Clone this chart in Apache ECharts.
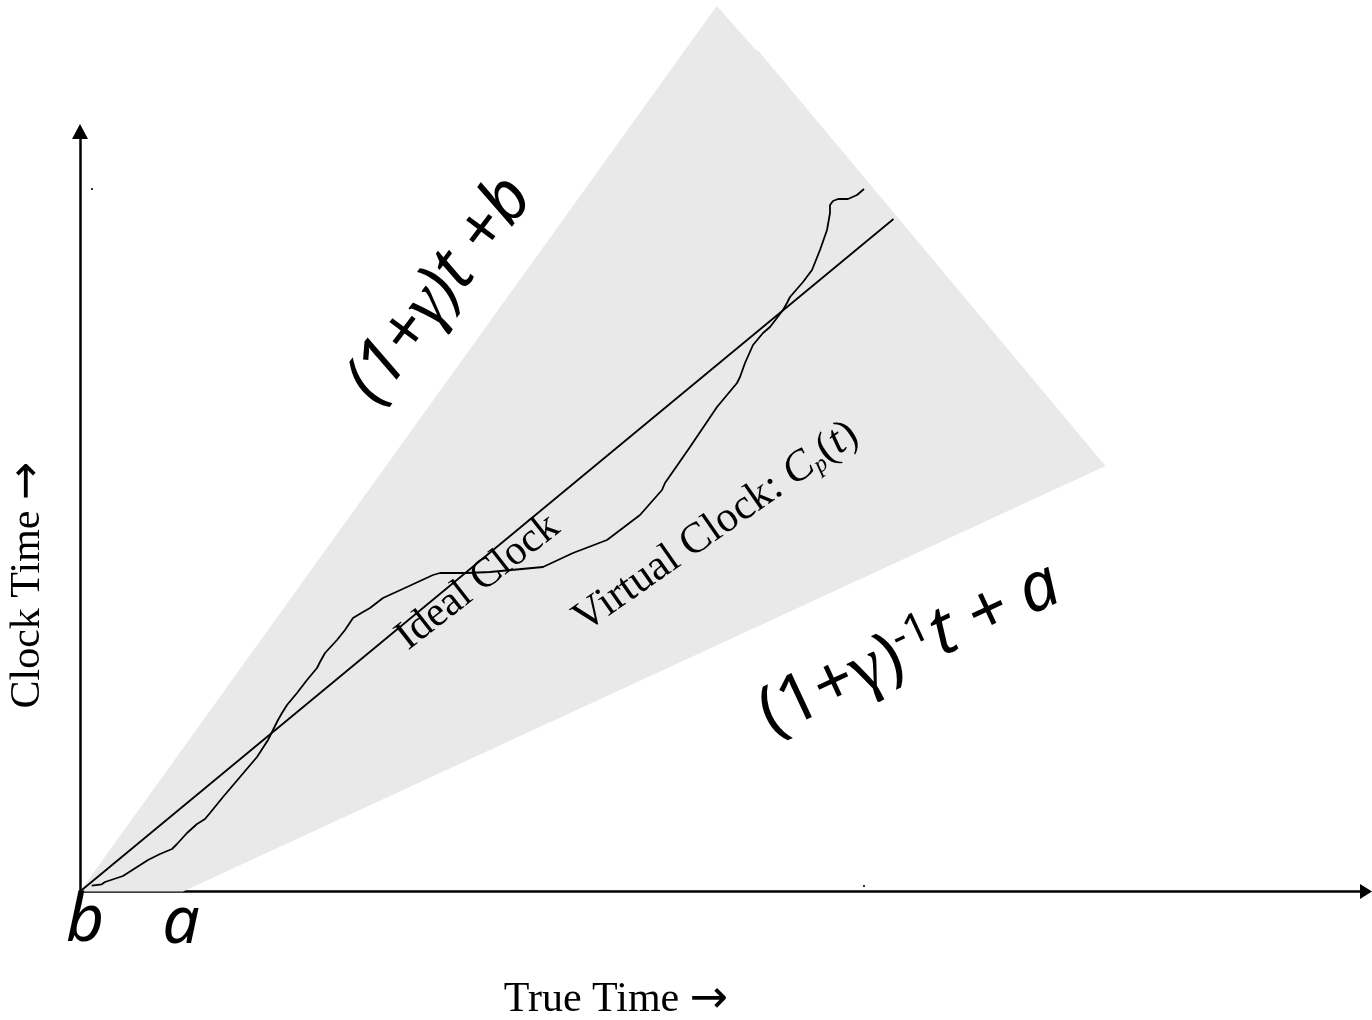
<!DOCTYPE html>
<html>
<head>
<meta charset="utf-8">
<script src="https://cdn.jsdelivr.net/npm/echarts@6/dist/echarts.min.js"></script>
<style>
html,body{margin:0;padding:0;background:#fff;}
#chart{width:1372px;height:1020px;}
</style>
</head>
<body>
<div id="chart"></div>
<script>
// Data in diagram units (true time on x, clock time on y)
var wedge = [[0,0],[636.7,885.5],[676,841.5],[678.5,840.5],[1025.5,425.5],[103,0]];
var idealClock = [[0,0],[813.5,672.5]];
var virtualClock = [
 [11.7,5.8],[21.7,7.2],[25,9.5],[43,15.5],[68,31.5],[80,37.5],[92,42.5],[97,47.5],
 [107,58.5],[117,67.5],[125,72.5],[130,78.5],[143,94.5],[160,114.5],[177,134.5],
 [188,151.5],[193,161.5],[198,171.5],[202,178.5],[207,186.5],[217,198.5],[227,211.5],
 [237,223.5],[240,229.5],[245,238.5],[257,251.5],[265,261.5],[273,273.5],[283,279.5],
 [290,283.5],[303,293.5],[327,304.5],[353,316.5],[360,318.5],[387,318.5],[410,319.5],
 [463,324.5],[493,338.5],[527,351.5],[560,376.5],[582,401.5],[585,408.5],[610,444.5],
 [637,484.5],[657,508.5],[660,514.5],[665,528.5],[673,546.5],[683,558.5],[690,564.5],
 [703,581.5],[707,588.5],[710,594.5],[723,609.5],[732,621.5],[740,641.5],[747,661.5],
 [750,678.5],[750,686.5],[753,690.5],[758,692.5],[768,692.5],[777,696.5],[784,702.5]
];
var specks = [[12,702.5],[784,5.5]];
var xMax = 1286, yMax = 760;

var chart = echarts.init(document.getElementById('chart'), null, {renderer:'canvas'});
var serif = '"Liberation Serif", "DejaVu Serif", serif';
var sans = '"Noto Sans", "Open Sans", sans-serif';
var arrowFont = '"DejaVu Sans", sans-serif';
var D = Math.PI/180;

var option = {
  backgroundColor:'#ffffff',
  animation:false,
  grid:{left:80, right:6, top:131.5, bottom:128.5},
  xAxis:{type:'value', min:0, max:xMax,
    axisLine:{show:true, symbol:['none','triangle'], symbolSize:[15,12], lineStyle:{color:'#000', width:2.5}},
    axisTick:{show:false}, axisLabel:{show:false}, splitLine:{show:false}},
  yAxis:{type:'value', min:0, max:yMax,
    axisLine:{show:true, symbol:['none','triangle'], symbolSize:[16,15], lineStyle:{color:'#000', width:2.5}},
    axisTick:{show:false}, axisLabel:{show:false}, splitLine:{show:false}},
  series:[
    {type:'custom', clip:false, z:1, silent:true, data:[0],
     renderItem:function(params, api){
       var pts = wedge.map(function(p){ return api.coord(p); });
       return {type:'polygon', shape:{points:pts}, style:{fill:'#e9e9e9', stroke:null}};
     }},
    {type:'line', data:idealClock, symbol:'none', z:3, lineStyle:{color:'#000', width:1.8}},
    {type:'line', data:virtualClock, symbol:'none', z:3, lineStyle:{color:'#000', width:1.8}},
    {type:'scatter', data:specks, symbol:'rect', symbolSize:2, z:3, itemStyle:{color:'#000'}}
  ],
  graphic:[
    {type:'text', x:440, y:290, rotation:53*D, z:10, style:{
      text:'{i|(1+}{g|γ}{i|)t +b}', fontFamily:sans, fontStyle:'italic', fontSize:68, fill:'#000',
      align:'center', verticalAlign:'middle',
      rich:{
        i:{fontFamily:sans, fontSize:68, fontStyle:'italic', fill:'#000'},
        g:{fontFamily:serif, fontSize:72, fontStyle:'italic', fill:'#000'}
      }}},
    {type:'text', x:910, y:650, rotation:25*D, z:10, style:{
      text:'{n|(1+}{g|γ}{n|)}{s|-1}{i|t + a}', fontFamily:sans, fontSize:68, fill:'#000',
      align:'center', verticalAlign:'middle',
      rich:{
        n:{fontFamily:sans, fontSize:68, fill:'#000'},
        g:{fontFamily:serif, fontSize:72, fill:'#000'},
        s:{fontFamily:sans, fontSize:42, fill:'#000', verticalAlign:'top'},
        i:{fontFamily:sans, fontSize:68, fontStyle:'italic', fill:'#000'}
      }}},
    {type:'text', x:478, y:582, rotation:38*D, z:10, style:{
      text:'Ideal Clock', fontFamily:serif, fontSize:42, fill:'#000',
      align:'center', verticalAlign:'middle'}},
    {type:'text', x:716, y:527, rotation:35*D, z:10, style:{
      text:'{n|Virtual Clock: }{c|C}{b|p}{n|(}{c|t}{n|)}', fontFamily:serif, fontSize:43, fill:'#000',
      align:'center', verticalAlign:'middle',
      rich:{
        n:{fontFamily:serif, fontSize:43, fill:'#000'},
        c:{fontFamily:serif, fontSize:43, fontStyle:'italic', fill:'#000'},
        b:{fontFamily:serif, fontSize:24, fontStyle:'italic', fill:'#000', verticalAlign:'bottom'}
      }}},
    {type:'text', x:28, y:585, rotation:90*D, z:10, style:{
      text:'{n|Clock Time }{a|→}', fontFamily:serif, fontSize:42, fill:'#000',
      align:'center', verticalAlign:'middle',
      rich:{n:{fontFamily:serif, fontSize:42, fill:'#000'}, a:{fontFamily:arrowFont, fontSize:46, fill:'#000'}}}},
    {type:'text', x:616, y:1000, z:10, style:{
      text:'{n|True Time }{a|→}', fontFamily:serif, fontSize:42, fill:'#000',
      align:'center', verticalAlign:'middle',
      rich:{n:{fontFamily:serif, fontSize:42, fill:'#000'}, a:{fontFamily:arrowFont, fontSize:46, fill:'#000'}}}},
    {type:'text', x:85, y:922, z:10, style:{
      text:'b', fontFamily:sans, fontStyle:'italic', fontSize:66, fill:'#000',
      align:'center', verticalAlign:'middle'}},
    {type:'text', x:181, y:924, z:10, style:{
      text:'a', fontFamily:sans, fontStyle:'italic', fontSize:66, fill:'#000',
      align:'center', verticalAlign:'middle'}}
  ]
};
chart.setOption(option);
</script>
</body>
</html>
